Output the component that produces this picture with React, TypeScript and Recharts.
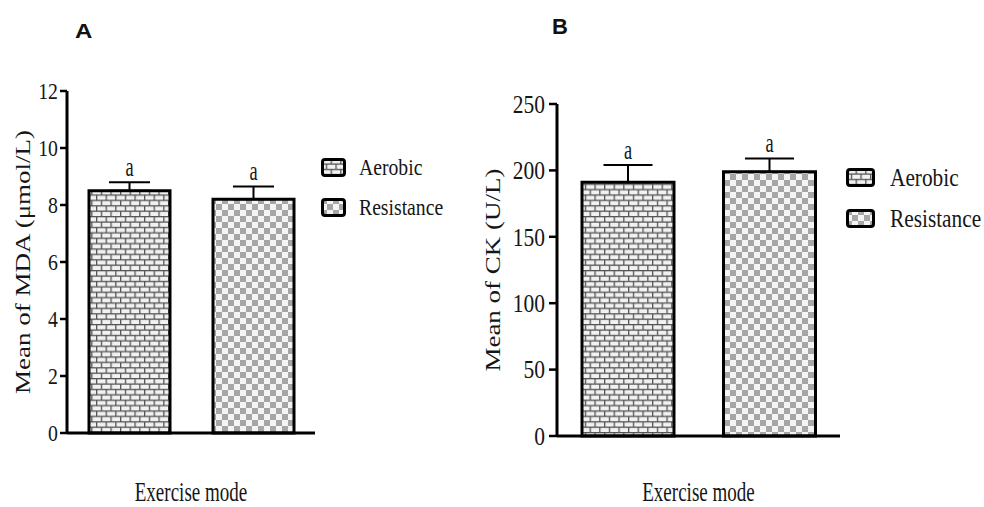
import React from "react";
import { BarChart, Bar, XAxis, YAxis, ErrorBar, Cell, LabelList, Label, Legend } from "recharts";

// groups and values
const groups = ["Aerobic", "Resistance"];
const patterns = ["brick", "checker"];
const sigLetters = ["a", "a"];

const mdaMeans = [8.5, 8.2];
const mdaErrors = [0.3, 0.45];
const mdaTicks = [0, 2, 4, 6, 8, 10, 12];

const ckMeans = [191, 199];
const ckErrors = [13, 10];
const ckTicks = [0, 50, 100, 150, 200, 250];

const serif = '"Liberation Serif", "Times New Roman", serif';
const ink = "#161616";

const PatternDefs = ({ prefix }: { prefix: string }) => (
  <defs>
    <pattern id={`${prefix}-brick`} patternUnits="userSpaceOnUse" width={9.6} height={10.8}>
      <rect width={9.6} height={10.8} fill="#555" />
      <rect x={1.3} y={1.3} width={8.3} height={4.1} fill="#f1f1f1" />
      <rect x={-3.5} y={6.7} width={8.3} height={4.1} fill="#f1f1f1" />
      <rect x={6.1} y={6.7} width={8.3} height={4.1} fill="#f1f1f1" />
    </pattern>
    <pattern id={`${prefix}-checker`} patternUnits="userSpaceOnUse" width={12} height={12}>
      <rect width={12} height={12} fill="#f4f4f4" />
      <rect width={6} height={6} fill="#a6a6a6" />
      <rect x={6} y={6} width={6} height={6} fill="#a6a6a6" />
    </pattern>
  </defs>
);

const SquashTick = (props: any) => {
  const { x, y, payload, tFont, tSquash } = props;
  return (
    <g transform={`translate(${x},${y}) scale(${tSquash},1)`}>
      <text
        textAnchor="end"
        dy="0.35em"
        style={{ fontFamily: serif, fontSize: tFont }}
        fill={ink}
      >
        {payload.value}
      </text>
    </g>
  );
};

interface PanelProps {
  id: string;
  left: number;
  width: number;
  means: number[];
  errors: number[];
  ticks: number[];
  yTitle: string;
  top: number;
  right: number;
  yAxisWidth: number;
  xAxisHeight: number;
  barSize: number;
  capHalf: number;
  tickSize: number;
  tickMargin: number;
  tickFont: number;
  yTitleX: number;
  legendLeft: number;
  legendTop: number;
  legendRow: number;
  legendBox: [number, number];
  legendGap: number;
  legendFont: number;
  titleFont: number;
  letterFont: number;
}

const Panel = (p: PanelProps) => {
  const data = groups.map((g, i) => ({
    group: g,
    mean: p.means[i],
    err: [0, p.errors[i]],
    sig: sigLetters[i],
  }));

  const renderLegend = () => (
    <div>
      {groups.map((g, i) => (
        <div key={g} style={{ display: "flex", alignItems: "center", height: p.legendRow }}>
          <svg width={p.legendBox[0]} height={p.legendBox[1]} style={{ display: "block" }}>
            <PatternDefs prefix={`${p.id}-lg`} />
            <rect
              x={1.5}
              y={1.5}
              width={p.legendBox[0] - 3}
              height={p.legendBox[1] - 3}
              rx={2.5}
              fill={`url(#${p.id}-lg-${patterns[i]})`}
              stroke="#000"
              strokeWidth={3}
            />
          </svg>
          <span
            style={{
              marginLeft: p.legendGap,
              fontFamily: serif,
              fontSize: p.legendFont,
              lineHeight: 1,
              color: ink,
              whiteSpace: "nowrap",
              display: "inline-block",
              transform: "scaleX(0.82)",
              transformOrigin: "left center",
            }}
          >
            {g}
          </span>
        </div>
      ))}
    </div>
  );

  return (
    <div style={{ position: "absolute", left: p.left, top: 0 }}>
      <BarChart
        width={p.width}
        height={507}
        data={data}
        margin={{ top: p.top, right: p.right, bottom: 0, left: 0 }}
      >
        <PatternDefs prefix={p.id} />
        <XAxis
          dataKey="group"
          height={p.xAxisHeight}
          tick={false}
          tickSize={10}
          axisLine={{ stroke: "#000", strokeWidth: 3 }}
          tickLine={{ stroke: "#000", strokeWidth: 2.5 }}
        >
          <Label
            content={(lp: any) => {
              const vb = lp.viewBox;
              return (
                <g transform={`translate(${vb.x + vb.width / 2},501) scale(0.68,1)`}>
                  <text textAnchor="middle" style={{ fontFamily: serif, fontSize: p.titleFont }} fill={ink}>
                    Exercise mode
                  </text>
                </g>
              );
            }}
          />
        </XAxis>
        <YAxis
          width={p.yAxisWidth}
          domain={[0, p.ticks[p.ticks.length - 1]]}
          ticks={p.ticks}
          interval={0}
          tickSize={p.tickSize}
          tickMargin={p.tickMargin}
          axisLine={{ stroke: "#000", strokeWidth: 3 }}
          tickLine={{ stroke: "#000", strokeWidth: 2.5 }}
          tick={<SquashTick tFont={p.tickFont} tSquash={0.86} />}
        >
          <Label
            content={(lp: any) => {
              const vb = lp.viewBox;
              return (
                <g transform={`translate(${vb.x + p.yTitleX},${vb.y + vb.height / 2}) scale(0.74,1) rotate(-90)`}>
                  <text textAnchor="middle" dy="0.33em" style={{ fontFamily: serif, fontSize: p.titleFont - 1 }} fill={ink}>
                    {p.yTitle}
                  </text>
                </g>
              );
            }}
          />
        </YAxis>
        <Legend
          layout="vertical"
          align="center"
          verticalAlign="middle"
          content={renderLegend}
          wrapperStyle={{ left: p.legendLeft, top: p.legendTop, width: "auto", bottom: "auto" }}
        />
        <Bar
          dataKey="mean"
          barSize={p.barSize}
          stroke="#000"
          strokeWidth={3}
          isAnimationActive={false}
        >
          {data.map((d, i) => (
            <Cell key={d.group} fill={`url(#${p.id}-${patterns[i]})`} />
          ))}
          <ErrorBar
            dataKey="err"
            direction="y"
            width={p.capHalf}
            stroke="#000"
            strokeWidth={2}
            isAnimationActive={false}
          />
          <LabelList
            dataKey="sig"
            content={(lp: any) => {
              const vb = lp.viewBox ?? lp;
              const i = lp.index ?? 0;
              const x = Number(vb.x ?? lp.x);
              const y = Number(vb.y ?? lp.y);
              const w = Number(vb.width ?? lp.width);
              const h = Number(vb.height ?? lp.height);
              const perUnit = h / p.means[i];
              const errTop = y - p.errors[i] * perUnit;
              return (
                <g transform={`translate(${x + w / 2},${errTop - 6}) scale(0.68,1)`}>
                  <text textAnchor="middle" style={{ fontFamily: serif, fontSize: p.letterFont }} fill={ink}>
                    {lp.value}
                  </text>
                </g>
              );
            }}
          />
        </Bar>
      </BarChart>
    </div>
  );
};

const panelLabel = (text: string, left: number, top: number, size: number, stretch: number) => (
  <div
    style={{
      position: "absolute",
      left,
      top,
      fontFamily: '"Liberation Sans", Arial, sans-serif',
      fontWeight: 700,
      fontSize: size,
      lineHeight: 1,
      color: "#111",
      transform: `scaleX(${stretch})`,
      transformOrigin: "left top",
    }}
  >
    {text}
  </div>
);

export default function App() {
  return (
    <div
      style={{
        position: "fixed",
        left: 0,
        top: 0,
        width: 984,
        height: 507,
        overflow: "hidden",
        background: "#fff",
      }}
    >
      {panelLabel("A", 75, 21, 20, 1.2)}
      {panelLabel("B", 552, 16, 22, 1)}
      <Panel
        id="mda"
        left={0}
        width={460}
        means={mdaMeans}
        errors={mdaErrors}
        ticks={mdaTicks}
        yTitle="Mean of MDA (μmol/L)"
        top={91}
        right={145}
        yAxisWidth={67}
        xAxisHeight={74}
        barSize={81}
        capHalf={20.5}
        tickSize={7}
        tickMargin={2}
        tickFont={23}
        yTitleX={23}
        legendLeft={321}
        legendTop={147}
        legendRow={40}
        legendBox={[25, 19]}
        legendGap={13}
        legendFont={24}
        titleFont={28}
        letterFont={27}
      />
      <Panel
        id="ck"
        left={460}
        width={524}
        means={ckMeans}
        errors={ckErrors}
        ticks={ckTicks}
        yTitle="Mean of CK (U/L)"
        top={104}
        right={144}
        yAxisWidth={97}
        xAxisHeight={71}
        barSize={92}
        capHalf={24.5}
        tickSize={8}
        tickMargin={4}
        tickFont={25}
        yTitleX={33}
        legendLeft={386}
        legendTop={157}
        legendRow={41}
        legendBox={[29, 19]}
        legendGap={15}
        legendFont={26}
        titleFont={28}
        letterFont={27}
      />
    </div>
  );
}
